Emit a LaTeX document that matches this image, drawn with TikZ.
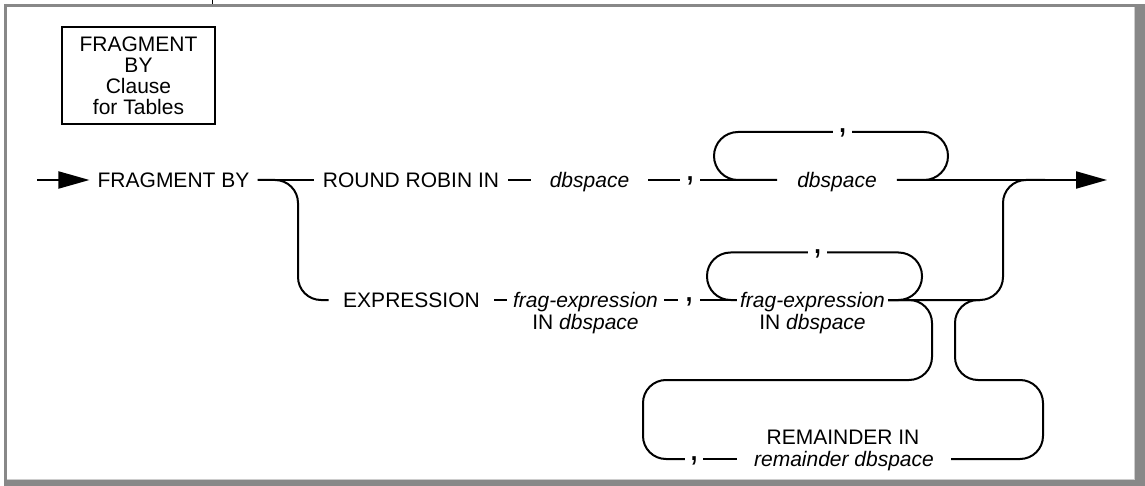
\documentclass[tikz,border=0pt]{standalone}
\usepackage{fontspec}
\setmainfont{Liberation Sans}
\usetikzlibrary{arrows.meta}
\definecolor{framegray}{RGB}{136,136,136}
\definecolor{framelight}{RGB}{205,205,205}
\newcommand\dgfont{\fontsize{21pt}{21.3pt}\selectfont}
\newcommand\dgcomma{\fontsize{36pt}{36pt}\selectfont}
\tikzset{
  rail/.style={line width=2pt, line join=round},
  lbl/.style={font=\dgfont, inner ysep=0pt, text height=15pt, text depth=0pt},
  cbox/.style={font=\dgcomma, inner sep=0pt, text height=2pt, text depth=0pt, minimum height=0pt},
  titlebox/.style={draw, line width=2pt, font=\dgfont, align=center, inner sep=0pt,
    minimum width=153pt, minimum height=97pt},
  bigtip/.style={-{Triangle[length=31pt,width=17pt]}}
}
\begin{document}
\begin{tikzpicture}[x=1pt,y=-1pt]
\useasboundingbox (0,0) rectangle (1145,486);
% frame
\fill[framegray] (4,480) rectangle (1145,486);
\fill[framegray] (1134,4) rectangle (1145,486);
\draw[framelight, line width=1pt] (6,479.5) -- (1134.5,479.5) -- (1134.5,7);
\draw[framegray, line width=3pt] (4,5.5) -- (1134,5.5);
\draw[framegray, line width=3pt] (5.5,4) -- (5.5,480);
\draw[line width=1pt] (212,0) -- (212,4);

% title box
\node[titlebox] (title) at (138.5,75.8) {FRAGMENT\\BY\\Clause\\for Tables};

% main row
\coordinate (in) at (37,180);
\node[lbl, inner xsep=8pt] (fb) at (173.5,180) {FRAGMENT BY};
\draw[rail, bigtip] (in) -- (fb.west);
\node[lbl, inner xsep=9pt] (rr) at (411,180) {ROUND ROBIN IN};
\draw[rail] (fb.east) -- (rr.west);
\node[lbl, inner xsep=19pt] (db1) at (589.5,180) {\itshape dbspace};
\draw[rail] (rr.east) -- (db1.west);
\node[cbox, minimum width=20pt] (c1) at (690,180) {,};
\draw[rail] (db1.east) -- (c1.west);
\node[lbl, inner xsep=20pt] (db2) at (837,180) {\itshape dbspace};
\draw[rail] (c1.east) -- (db2.west);
\coordinate (out) at (1107,180);
\draw[rail, bigtip] (db2.east) -- (out);

% repeat loop over dbspace
\node[cbox, minimum width=19pt] (c2) at (842.5,132) {,};
\draw[rail, rounded corners=24pt] (c2.west) -| (714,180) -- (db2.west);
\draw[rail, rounded corners=24pt] (c2.east) -| (948,180) -- (db2.east);

% expression branch
\node[lbl, inner xsep=14.5pt] (ex) at (411.5,300) {EXPRESSION};
\draw[rail, rounded corners=23pt] (fb.east) -| (298,300) -- (ex.west);
\node[lbl, inner xsep=6pt] (fe1) at (585.5,300) {\itshape frag-expression};
\node[lbl] (fe1b) at (585.5,322) {IN \itshape dbspace};
\draw[rail] (ex.east) -- (fe1.west);
\node[cbox, minimum width=22pt] (c3) at (689,300) {,};
\draw[rail] (fe1.east) -- (c3.west);
\node[lbl, inner xsep=3pt] (fe2) at (812.5,300) {\itshape frag-expression};
\node[lbl] (fe2b) at (812.5,322) {IN \itshape dbspace};
\draw[rail] (c3.east) -- (fe2.west);

% repeat loop over frag-expression
\node[cbox, minimum width=19pt] (c4) at (817.5,252.5) {,};
\draw[rail, rounded corners=23.5pt] (c4.west) -| (707,300) -- (fe2.west);
\draw[rail, rounded corners=23.5pt] (c4.east) -| (922,300) -- (fe2.east);

% riser to main line
\coordinate (j2) at (1045,180);
\coordinate (j3) at (980,300);
\draw[rail, rounded corners=23pt] (fe2.east) -| (1003,180) -- (j2);

% remainder loop
\node[cbox, minimum width=18pt] (c5) at (694,459) {,};
\node[lbl, inner xsep=17pt] (rd) at (844,459) {\itshape remainder dbspace};
\node[lbl] (rin) at (843,437) {REMAINDER IN};
\draw[rail] (c5.east) -- (rd.west);
\draw[rail, rounded corners=23pt] (fe2.east) -| (932,380) -| (643,459) -- (c5.west);
\draw[rail, rounded corners=23pt] (rd.east) -| (1043,380) -| (955,300) -- (j3);
\end{tikzpicture}
\end{document}
